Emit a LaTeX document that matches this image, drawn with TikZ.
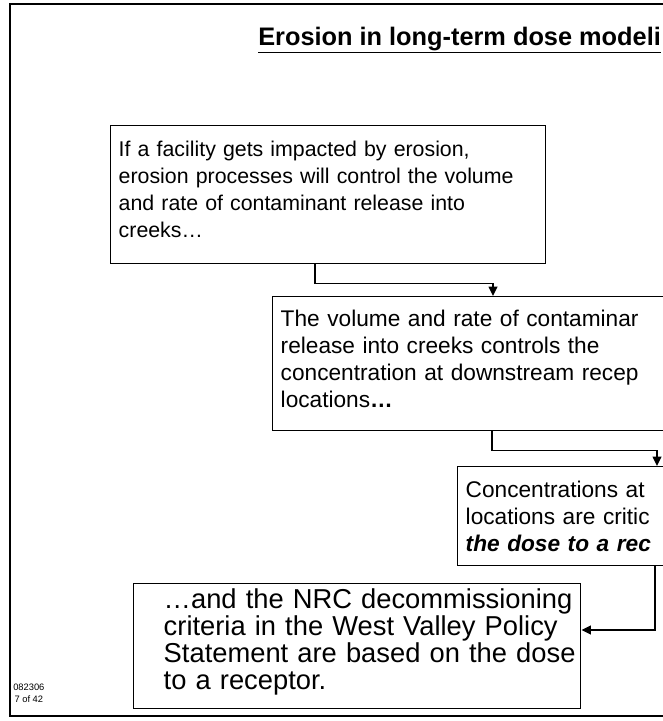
\documentclass[tikz,border=0pt]{standalone}
\usepackage{fontspec}
\setmainfont{Liberation Sans}
\usetikzlibrary{arrows.meta,positioning}

\begin{document}
\begin{tikzpicture}[
    x=0.75pt, y=-0.75pt,
    box/.style={draw, line width=1.1pt, anchor=north west, inner xsep=6pt, inner ysep=0pt, align=left, font=\fontsize{17}{20.25}\selectfont},
    arrow/.style={-{Triangle[length=7pt,width=6.5pt]}, line width=1.1pt}
]
\useasboundingbox (0,0) rectangle (662,721);

% slide frame
\draw[line width=1.2pt] (700,4) -| (10,716) -- (700,716);

% title
\node[anchor=base west, inner sep=0pt, font=\fontsize{19}{23}\selectfont\bfseries] (title) at (258,45) {\underline{Erosion in long-term dose modeli}};

% the chain of boxes
\node[box, font=\fontsize{16}{20.25}\selectfont, text width=314pt, text height=23.25pt, text depth=80.25pt] (erosion) at (110,125) {If a facility gets impacted by erosion,\\erosion processes will control the volume\\and rate of contaminant release into\\creeks\dots};
\node[box, text width=400pt, text height=22.5pt, text depth=78pt] (release) at (272,296) {The volume and rate of contaminar\\release into creeks controls the\\concentration at downstream recep\\locations\textbf{\dots}};
\node[box, text width=300pt, text height=23.25pt, text depth=51pt] (conc) at (457,466) {Concentrations at\\locations are critic\\\textbf{\textit{the dose to a rec}}};
\node[box, inner xsep=3.75pt, font=\fontsize{20.5}{20.25}\selectfont, text width=327.75pt, text height=18.75pt, text depth=75pt] (criteria) at (133,583) {\leftskip=18.75pt \dots and the NRC decommissioning\\criteria in the West Valley Policy\\Statement are based on the dose\\to a receptor.\par};

% connectors
\draw[arrow] ([xshift=153.75pt]erosion.south west) -- ++(0,19) -| ([xshift=165.75pt]release.north west);
\draw[arrow] ([xshift=165pt]release.south west) -- ++(0,19) -| ([xshift=150pt]conc.north west);
\draw[arrow] ([xshift=148.5pt]conc.south west) |- ([yshift=-35.25pt]criteria.north east);

% slide number
\node[anchor=north west, inner sep=0pt, align=center, font=\fontsize{7}{9}\selectfont] (slideno) at (13,684) {082306\\7 of 42};

\end{tikzpicture}
\end{document}
